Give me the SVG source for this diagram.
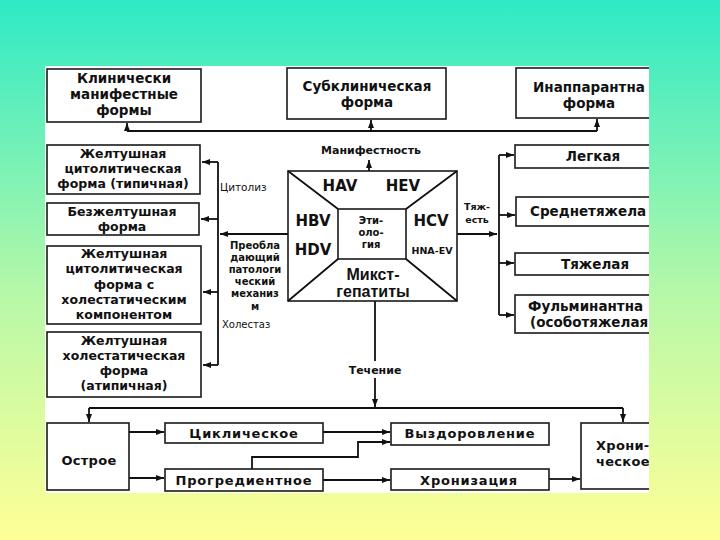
<svg xmlns="http://www.w3.org/2000/svg" width="720" height="540" viewBox="0 0 720 540">
<defs>
<linearGradient id="bg" x1="0" y1="0" x2="0" y2="1">
<stop offset="0" stop-color="#2EEAC6"/>
<stop offset="0.55" stop-color="#B8F8A8"/>
<stop offset="1" stop-color="#FFFF96"/>
</linearGradient>
<clipPath id="panel"><rect x="45" y="66" width="604" height="427"/></clipPath>
<marker id="ah" viewBox="0 0 8 6" refX="8" refY="3" markerWidth="8" markerHeight="6" markerUnits="userSpaceOnUse" orient="auto">
<path d="M0,0 L8,3 L0,6 z" fill="#111"/>
</marker>
<style>
.box{fill:#fff;stroke:#1a1a1a;stroke-width:1.6}
.ln{fill:none;stroke:#111;stroke-width:1.8}
.ar{fill:none;stroke:#111;stroke-width:1.8;marker-end:url(#ah)}
.t{font-family:"DejaVu Sans",sans-serif;font-weight:bold;font-size:13.5px;fill:#111;text-anchor:middle}
.tl{font-family:"DejaVu Sans",sans-serif;font-weight:bold;font-size:12.5px;fill:#111;text-anchor:middle}
.tb{font-family:"DejaVu Sans",sans-serif;font-weight:bold;font-size:13px;letter-spacing:0.8px;fill:#111;text-anchor:middle}
.s{font-family:"DejaVu Sans",sans-serif;font-weight:bold;font-size:11px;fill:#111;text-anchor:middle}
.p{font-family:"DejaVu Sans",sans-serif;font-weight:bold;font-size:10px;fill:#111;text-anchor:middle}
.r{font-family:"DejaVu Sans",sans-serif;font-size:10.5px;fill:#111}
.v{font-family:"DejaVu Sans",sans-serif;font-weight:bold;font-size:15px;fill:#111;text-anchor:middle}
.m{font-family:"Liberation Sans",sans-serif;font-weight:bold;font-size:16px;fill:#111;text-anchor:middle}
</style>
</defs>
<rect x="0" y="0" width="720" height="540" fill="url(#bg)"/>
<rect x="45" y="66" width="604" height="427" fill="#fff"/>
<g clip-path="url(#panel)">
<g id="connectors">
<path class="ln" d="M127,131 H597"/>
<path class="ar" d="M127,131 V123"/>
<path class="ar" d="M371,131 V120"/>
<path class="ar" d="M597,131 V119"/>
<path class="ar" d="M369,209 V160"/>
<path class="ln" d="M288,234 H338 M406,234 H457"/>
<path class="ar" d="M288,234 H220"/>
<path class="ar" d="M457,234 H497"/>
<path class="ln" d="M218,162 V365"/>
<path class="ar" d="M218,162 H202"/>
<path class="ar" d="M218,219 H201"/>
<path class="ar" d="M218,292 H203"/>
<path class="ar" d="M218,365 H203"/>
<path class="ln" d="M499,155 V315"/>
<path class="ar" d="M499,155 H514"/>
<path class="ar" d="M499,215 H515"/>
<path class="ar" d="M499,263 H514"/>
<path class="ar" d="M499,315 H514"/>
<path class="ln" d="M375,301 V361"/>
<path class="ar" d="M375,378 V407"/>
<path class="ln" d="M89,408 H623"/>
<path class="ar" d="M89,408 V422"/>
<path class="ar" d="M623,408 V422"/>
<path class="ar" d="M129,432 H164"/>
<path class="ar" d="M129,478 H164"/>
<path class="ar" d="M323,432 H390"/>
<path class="ar" d="M252,469 V457 H358 V442 H390"/>
<path class="ar" d="M323,480 H390"/>
<path class="ar" d="M549,479 H580"/>
</g>
<g id="n-klin"><rect class="box" x="47" y="69" width="154" height="53"/>
<text class="t" x="124" y="83">Клинически</text><text class="t" x="124" y="99">манифестные</text><text class="t" x="124" y="115">формы</text></g>
<g id="n-subklin"><rect class="box" x="287" y="68" width="159" height="51"/>
<text class="t" x="367" y="91">Субклиническая</text><text class="t" x="367" y="107">форма</text></g>
<g id="n-inapp"><rect class="box" x="516" y="68" width="150" height="50"/>
<text class="t" x="533" y="92" style="text-anchor:start">Инаппарантна</text><text class="t" x="589" y="108">форма</text></g>
<g id="n-manif"><text class="s" x="371" y="154">Манифестность</text></g>
<g id="n-zhelt1"><rect class="box" x="47" y="145" width="153" height="49"/>
<text class="tl" x="123" y="158">Желтушная</text><text class="tl" x="123" y="173">цитолитическая</text><text class="tl" x="123" y="188">форма (типичная)</text></g>
<g id="n-bezh"><rect class="box" x="47" y="203" width="152" height="32"/>
<text class="tl" x="122" y="216">Безжелтушная</text><text class="tl" x="122" y="231">форма</text></g>
<g id="n-zhelt2"><rect class="box" x="47" y="246" width="154" height="78"/>
<text class="tl" x="124" y="258">Желтушная</text><text class="tl" x="124" y="273">цитолитическая</text><text class="tl" x="124" y="289">форма с</text><text class="tl" x="124" y="304">холестатическим</text><text class="tl" x="124" y="319">компонентом</text></g>
<g id="n-zhelt3"><rect class="box" x="47" y="332" width="154" height="65"/>
<text class="tl" x="124" y="345">Желтушная</text><text class="tl" x="124" y="360">холестатическая</text><text class="tl" x="124" y="375">форма</text><text class="tl" x="124" y="390">(атипичная)</text></g>
<g id="n-cytoliz"><text class="r" x="220" y="191">Цитолиз</text></g>
<g id="n-preobl">
<text class="p" x="255" y="249">Преобла</text><text class="p" x="255" y="261">дающий</text><text class="p" x="255" y="273">патологи</text><text class="p" x="255" y="285">ческий</text><text class="p" x="255" y="297">механиз</text><text class="p" x="255" y="310">м</text></g>
<g id="n-holestaz"><text class="r" x="222" y="328" style="font-size:10px">Холестаз</text></g>
<g id="n-etiology">
<rect class="box" x="288" y="171" width="169" height="130"/>
<rect class="box" x="338" y="209" width="68" height="50"/>
<path class="ln" d="M288,171 L338,209 M457,171 L406,209 M288,301 L338,259 M457,301 L406,259"/>
<text class="v" x="340" y="191">HAV</text><text class="v" x="403" y="191">HEV</text>
<text class="v" x="313" y="226">HBV</text><text class="v" x="431" y="226">HCV</text>
<text class="v" x="313" y="255">HDV</text>
<text class="s" x="432" y="254" style="font-size:9.5px">HNA-EV</text>
<text class="p" x="371" y="224">Эти-</text><text class="p" x="371" y="236">оло-</text><text class="p" x="371" y="248">гия</text>
<text class="m" x="373" y="280">Микст-</text>
<text class="m" x="373" y="297">гепатиты</text>
</g>
<g id="n-tyazh"><text class="s" x="477" y="210" style="font-size:9.5px">Тяж-</text><text class="s" x="477" y="223" style="font-size:9.5px">есть</text></g>
<g id="n-legk"><rect class="box" x="515" y="145" width="150" height="23"/><text class="t" x="593" y="161">Легкая</text></g>
<g id="n-sredn"><rect class="box" x="516" y="197" width="150" height="29"/><text class="t" x="530" y="216" style="text-anchor:start">Среднетяжела</text></g>
<g id="n-tyazhel"><rect class="box" x="515" y="253" width="150" height="22"/><text class="t" x="595" y="269">Тяжелая</text></g>
<g id="n-fulm"><rect class="box" x="515" y="295" width="150" height="38"/>
<text class="t" x="528" y="311" style="text-anchor:start">Фульминантна</text><text class="t" x="530" y="327" style="text-anchor:start">(особотяжелая</text></g>
<g id="n-techenie"><text class="s" x="375" y="374">Течение</text></g>
<g id="n-ostroe"><rect class="box" x="47" y="423" width="82" height="67"/><text class="tb" x="89" y="465" style="letter-spacing:0.3px">Острое</text></g>
<g id="n-cikl"><rect class="box" x="165" y="423" width="158" height="20"/><text class="tb" x="244" y="438">Циклическое</text></g>
<g id="n-progr"><rect class="box" x="165" y="469" width="158" height="22"/><text class="tb" x="244" y="485">Прогредиентное</text></g>
<g id="n-vyzd"><rect class="box" x="391" y="423" width="158" height="22"/><text class="tb" x="470" y="438">Выздоровление</text></g>
<g id="n-hroniz"><rect class="box" x="391" y="469" width="158" height="21"/><text class="tb" x="469" y="485">Хронизация</text></g>
<g id="n-hronich"><rect class="box" x="581" y="423" width="100" height="66"/>
<text class="tb" x="596" y="450" style="text-anchor:start;letter-spacing:0.3px">Хрони-</text><text class="tb" x="596" y="466" style="text-anchor:start;letter-spacing:0.3px">ческое</text></g>
</g>
</svg>
